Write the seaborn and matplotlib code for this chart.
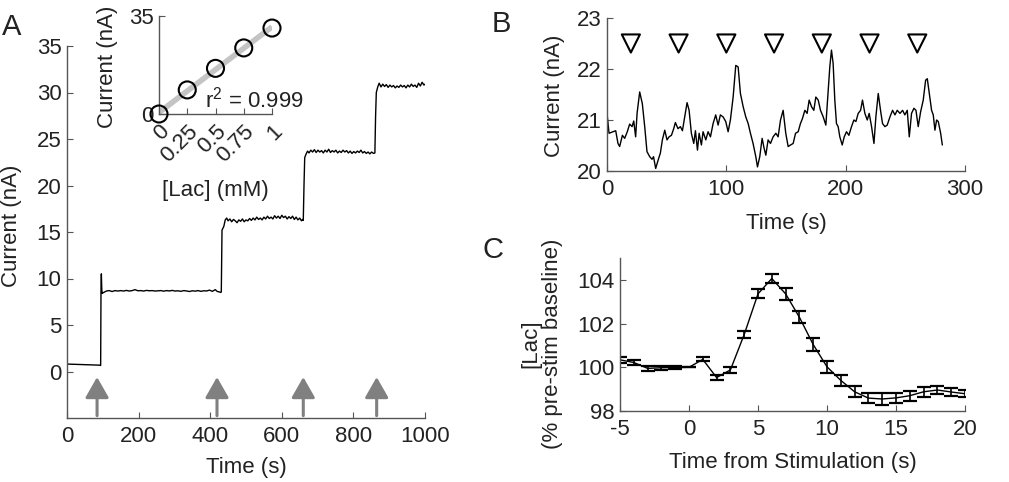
import matplotlib
matplotlib.use("Agg")
import matplotlib.pyplot as plt
import seaborn as sns
import numpy as np
import pandas as pd

# ---------------- data ----------------
# Panel A: calibration trace (time s, current nA)
a_time = [0, 30, 60, 92, 94, 95, 96, 97, 98, 100, 105, 110, 118, 126, 134, 142, 150, 158, 166, 174,
          182, 190, 198, 206, 214, 222, 230, 238, 246, 254, 262, 270, 278, 286, 294, 302, 310, 318,
          326, 334, 342, 350, 358, 366, 374, 382, 390, 398, 406, 414, 420, 426, 430,
          431, 433, 438, 442, 446, 450, 455, 460, 465, 470, 475, 480, 485, 490, 495, 500, 505, 510,
          515, 520, 525, 530, 535, 540, 545, 550, 555, 560, 565, 570, 575, 580, 585, 590, 595, 600,
          605, 610, 615, 620, 625, 630, 635, 640, 645, 650, 655, 658, 660,
          662, 664, 668, 672, 676, 681, 686, 691, 696, 701, 706, 711, 716, 721, 726, 731, 736, 741,
          746, 751, 756, 761, 766, 771, 776, 781, 786, 791, 796, 801, 806, 811, 816, 821, 826, 831,
          836, 841, 846, 851, 856, 860,
          862, 864, 868, 872, 877, 882, 887, 892, 897, 902, 907, 912, 917, 922, 927, 932, 937, 942,
          947, 952, 957, 962, 967, 972, 977, 982, 987, 992, 997, 1000]
a_current = [0.8, 0.76, 0.72, 0.68, 0.65, 9.0, 10.5, 9.0, 8.4, 8.45, 8.55, 8.65, 8.7, 8.6, 8.7, 8.65,
             8.7, 8.65, 8.72, 8.65, 8.7, 8.8, 8.68, 8.7, 8.65, 8.72, 8.68, 8.7, 8.65, 8.68, 8.7, 8.64,
             8.7, 8.66, 8.72, 8.65, 8.68, 8.62, 8.7, 8.66, 8.6, 8.68, 8.64, 8.7, 8.62, 8.68, 8.66,
             8.75, 8.62, 8.8, 8.6, 8.55, 8.5,
             8.6, 15.2, 15.6, 16.3, 16.5, 16.2, 16.4, 16.1, 16.35, 16.2, 16.0, 16.3, 16.15, 16.4, 16.1,
             16.3, 16.2, 16.45, 16.25, 16.5, 16.3, 16.6, 16.35, 16.5, 16.3, 16.6, 16.4, 16.7, 16.45,
             16.6, 16.4, 16.75, 16.5, 16.7, 16.45, 16.8, 16.55, 16.7, 16.4, 16.65, 16.45, 16.7, 16.35,
             16.6, 16.3, 16.5, 16.2, 16.35, 16.25,
             20.0, 23.0, 23.4, 23.7, 23.5, 23.8, 23.6, 23.85, 23.55, 23.8, 23.6, 23.75, 23.5, 23.8,
             23.6, 23.9, 23.55, 23.75, 23.6, 23.8, 23.5, 23.7, 23.55, 23.8, 23.6, 23.75, 23.5, 23.7,
             23.45, 23.65, 23.5, 23.7, 23.55, 23.8, 23.5, 23.65, 23.45, 23.6, 23.4, 23.6, 23.45, 23.5,
             27.5, 30.0, 30.6, 31.0, 30.6, 30.9, 30.65, 30.85, 30.55, 30.8, 30.6, 30.75, 30.5, 30.7,
             30.55, 30.8, 30.6, 30.75, 30.5, 30.8, 30.6, 30.9, 30.65, 30.8, 30.55, 31.0, 30.7, 31.1,
             30.8, 30.9]
a_arrow_times = [84, 419, 660, 865]

# Inset calibration
cal_conc = [0, 0.25, 0.5, 0.75, 1.0]
cal_current = [0.0, 8.6, 16.3, 23.6, 30.7]
cal_xticklabels = ["0", "0.25", "0.5", "0.75", "1"]

# Panel B: trace during stimulation
b_time = [0, 1.7, 5, 7.3, 9.2, 10.6, 12.9, 14.8, 17, 19, 21, 22.4, 24, 25.2, 27.4, 29.6, 31.6, 33.5,
          35.8, 37.7, 39, 40.8, 42.8, 44.7, 46.4, 48.4, 50.3, 52, 54, 55.9, 57.3, 59.5, 61.5, 63.2,
          65.1, 67.1, 68.8, 70.7, 72.7, 74.1, 75.8, 77.2, 79.1, 80.5, 82.8, 84.7, 86.7, 88.9, 91.1,
          93.1, 95, 97.3, 99.5, 101.5, 103.4, 105.7, 107.9, 109.9, 111.8, 114.1, 116.3, 118.3,
          120.2, 122.4, 124.7, 126.1, 128, 130, 131.7, 133.1, 135, 137, 139.2, 141.5, 143.4, 145.4,
          147.6, 149.8, 151.8, 153.8, 156, 158, 160.2, 162.1, 163.8, 165.8, 167.7, 169.4, 171.4,
          173.3, 175, 177, 178.9, 181.2, 183.4, 184.8, 186.7, 188.1, 189.5, 190.9, 192.3, 193.7,
          195.1, 197.1, 198.8, 200.7, 202.7, 204.9, 206.9, 208.6, 210.5, 212.5, 214.1, 216.1,
          218.1, 219.7, 221.7, 223.7, 225.3, 227.3, 229.2, 230.9, 232.9, 234.8, 237.1, 239.3,
          241.3, 243.2, 245.5, 247.7, 249.6, 251.6, 253.3, 255.2, 257.2, 258.9, 260.8, 262.8, 265,
          267, 268.4, 270.1, 272, 273.4, 274.8, 276.2, 277.6, 279.6, 281]
b_current = [21.13, 20.74, 20.77, 20.79, 20.54, 20.48, 20.70, 20.64, 20.77, 20.92, 20.87, 20.98,
             20.67, 21.13, 21.55, 21.32, 20.87, 20.38, 20.28, 20.23, 20.28, 20.05, 20.21, 20.35,
             20.61, 20.80, 20.61, 20.67, 20.70, 20.83, 20.95, 20.83, 20.87, 20.79, 21.06, 21.34,
             21.19, 20.74, 20.54, 20.79, 20.41, 20.74, 20.51, 20.77, 20.61, 20.77, 20.67, 20.93,
             21.10, 20.90, 21.10, 21.06, 20.97, 20.77, 21.00, 21.45, 22.07, 22.04, 21.52, 21.26,
             21.06, 20.93, 20.74, 20.54, 20.28, 20.08, 20.28, 20.64, 20.44, 20.31, 20.61, 20.54,
             20.67, 20.74, 20.67, 21.00, 21.19, 20.74, 20.48, 20.51, 20.54, 20.74, 20.77, 20.93,
             21.03, 21.19, 21.13, 21.39, 21.26, 21.19, 21.45, 21.39, 21.19, 21.06, 20.90, 21.39,
             22.04, 22.37, 22.11, 21.39, 20.93, 20.87, 20.67, 20.51, 20.67, 20.77, 20.70, 20.87,
             21.00, 20.97, 21.13, 21.19, 21.39, 21.13, 21.00, 21.13, 20.87, 20.54, 21.06, 21.52,
             21.19, 20.93, 20.87, 20.90, 21.06, 21.19, 21.10, 21.19, 21.13, 21.19, 21.10, 21.19,
             20.67, 21.13, 21.23, 21.19, 20.87, 21.16, 21.39, 21.78, 21.81, 21.52, 21.19, 21.10,
             20.80, 21.00, 20.97, 20.74, 20.51]
b_stim_times = [20, 60, 100, 140, 180, 220, 260]
b_stim_level = [22.5, 22.5, 22.5, 22.5, 22.5, 22.5, 22.5]

# Panel C: averaged response
c_time = [-5, -4, -3, -2, -1, 0, 1, 2, 3, 4, 5, 6, 7, 8, 9, 10, 11, 12, 13, 14, 15, 16, 17, 18, 19, 20]
c_mean = [100.34, 100.22, 99.95, 99.98, 99.99, 100.0, 100.36, 99.53, 99.88, 101.5, 103.36, 104.06,
          103.36, 102.29, 101.04, 100.02, 99.4, 98.88, 98.59, 98.55, 98.6, 98.7, 98.88, 98.96,
          98.87, 98.79]
c_sem = [0.14, 0.11, 0.1, 0.1, 0.05, 0.0, 0.09, 0.11, 0.14, 0.17, 0.2, 0.19, 0.27, 0.28, 0.28,
         0.27, 0.25, 0.26, 0.24, 0.27, 0.24, 0.23, 0.23, 0.18, 0.17, 0.17]

# ---------------- style ----------------
sns.set_theme(style="ticks")
plt.rcParams["font.family"] = ["Liberation Sans", "DejaVu Sans"]
plt.rcParams["mathtext.fontset"] = "custom"
plt.rcParams["mathtext.rm"] = "Liberation Sans"
AX_COLOR = "#555555"
TXT = "#222222"
FS = 16

fig = plt.figure(figsize=(10.09, 4.82), dpi=100)


def style_axes(ax):
    sns.despine(ax=ax)
    for s in ("left", "bottom"):
        ax.spines[s].set_color(AX_COLOR)
        ax.spines[s].set_linewidth(1.0)
    ax.tick_params(direction="in", length=4, width=0.8, color=AX_COLOR,
                   labelsize=FS, labelcolor=TXT)
    ax.tick_params(axis="x", pad=6)
    ax.tick_params(axis="y", pad=4)
    ax.set_facecolor("none")


# ---------------- Panel A ----------------
axA = fig.add_axes([67 / 1009, 1 - 418 / 482, 358 / 1009, 372 / 482])
dfA = pd.DataFrame({"t": a_time, "i": a_current})
sns.lineplot(data=dfA, x="t", y="i", ax=axA, color="black", lw=1.0, estimator=None, sort=False)
for t in a_arrow_times:
    axA.annotate("", xy=(t, -0.6), xytext=(t, -4.75),
                 arrowprops=dict(arrowstyle="-|>,head_length=0.35,head_width=0.2",
                                 mutation_scale=36, color="#808080", lw=2.2,
                                 shrinkA=0, shrinkB=0))
axA.set_xlim(0, 1000)
axA.set_ylim(-5, 35)
axA.set_xticks([0, 200, 400, 600, 800, 1000])
axA.set_yticks([0, 5, 10, 15, 20, 25, 30, 35])
style_axes(axA)
axA.set_xlabel("Time (s)", fontsize=FS, color=TXT)
axA.set_ylabel("Current (nA)", fontsize=FS, color=TXT)
axA.xaxis.set_label_coords(0.5, -0.105)
axA.yaxis.set_label_coords(-0.126, 0.516)

# Inset
axI = fig.add_axes([159 / 1009, 1 - 114 / 482, 113 / 1009, 98 / 482])
dfI = pd.DataFrame({"c": cal_conc, "i": cal_current})
sns.regplot(data=dfI, x="c", y="i", ax=axI, ci=None, scatter=False,
            line_kws=dict(color="#c4c4c4", lw=4, solid_capstyle="butt"))
sns.scatterplot(data=dfI, x="c", y="i", ax=axI, s=150, facecolor="none",
                edgecolor="black", linewidth=1.5, zorder=4, clip_on=False)
axI.set_xlim(0, 1)
axI.set_ylim(0, 35)
axI.set_xticks(cal_conc)
axI.set_xticklabels(cal_xticklabels, rotation=45, ha="right", rotation_mode="anchor")
axI.set_yticks([0, 35])
style_axes(axI)
axI.tick_params(axis="x", pad=5)
axI.set_xlabel("[Lac] (mM)", fontsize=FS, color=TXT)
axI.set_ylabel("Current (nA)", fontsize=FS, color=TXT)
axI.xaxis.set_label_coords(0.5, -0.673)
axI.yaxis.set_label_coords(-0.363, 0.48)
axI.text(0.41, 5.0, r"r$^2$ = 0.999", fontsize=FS, ha="left", va="center", color=TXT,
         clip_on=False)

# ---------------- Panel B ----------------
axB = fig.add_axes([607 / 1009, 1 - 171 / 482, 358 / 1009, 153 / 482])
dfB = pd.DataFrame({"t": b_time, "i": b_current})
sns.lineplot(data=dfB, x="t", y="i", ax=axB, color="black", lw=1.0, estimator=None, sort=False)
dfS = pd.DataFrame({"t": b_stim_times, "y": b_stim_level})
sns.scatterplot(data=dfS, x="t", y="y", ax=axB, marker="v", s=170, facecolor="none",
                edgecolor="black", linewidth=1.5, zorder=4)
axB.set_xlim(0, 300)
axB.set_ylim(20, 23)
axB.set_xticks([0, 100, 200, 300])
axB.set_yticks([20, 21, 22, 23])
style_axes(axB)
axB.set_xlabel("Time (s)", fontsize=FS, color=TXT)
axB.set_ylabel("Current (nA)", fontsize=FS, color=TXT)
axB.xaxis.set_label_coords(0.5, -0.275)
axB.yaxis.set_label_coords(-0.117, 0.49)

# ---------------- Panel C ----------------
axC = fig.add_axes([620 / 1009, 1 - 411 / 482, 345 / 1009, 153 / 482])
dfC = pd.DataFrame({"t": c_time, "m": c_mean, "e": c_sem})
sns.lineplot(data=dfC, x="t", y="m", ax=axC, color="black", lw=1.0, estimator=None)
axC.errorbar(dfC["t"], dfC["m"], yerr=dfC["e"], fmt="none", ecolor="black",
             elinewidth=1.2, capsize=5, capthick=1.6)
axC.set_xlim(-5, 20)
axC.set_ylim(98, 105)
axC.set_xticks([-5, 0, 5, 10, 15, 20])
axC.set_xticklabels(["-5", "0", "5", "10", "15", "20"])
axC.set_yticks([98, 100, 102, 104])
style_axes(axC)
axC.set_xlabel("Time from Stimulation (s)", fontsize=FS, color=TXT)
axC.set_ylabel("[Lac]\n(% pre-stim baseline)", fontsize=FS, color=TXT, linespacing=1.05)
axC.xaxis.set_label_coords(0.5, -0.268)
axC.yaxis.set_label_coords(-0.165, 0.44)

# Panel letters
fig.text(2 / 1009, 1 - 35 / 482, "A", fontsize=21, ha="left", va="baseline", color=TXT)
fig.text(492 / 1009, 1 - 32 / 482, "B", fontsize=21, ha="left", va="baseline", color=TXT)
fig.text(482 / 1009, 1 - 258 / 482, "C", fontsize=21, ha="left", va="baseline", color=TXT)

fig.savefig("out.png", dpi=100)
